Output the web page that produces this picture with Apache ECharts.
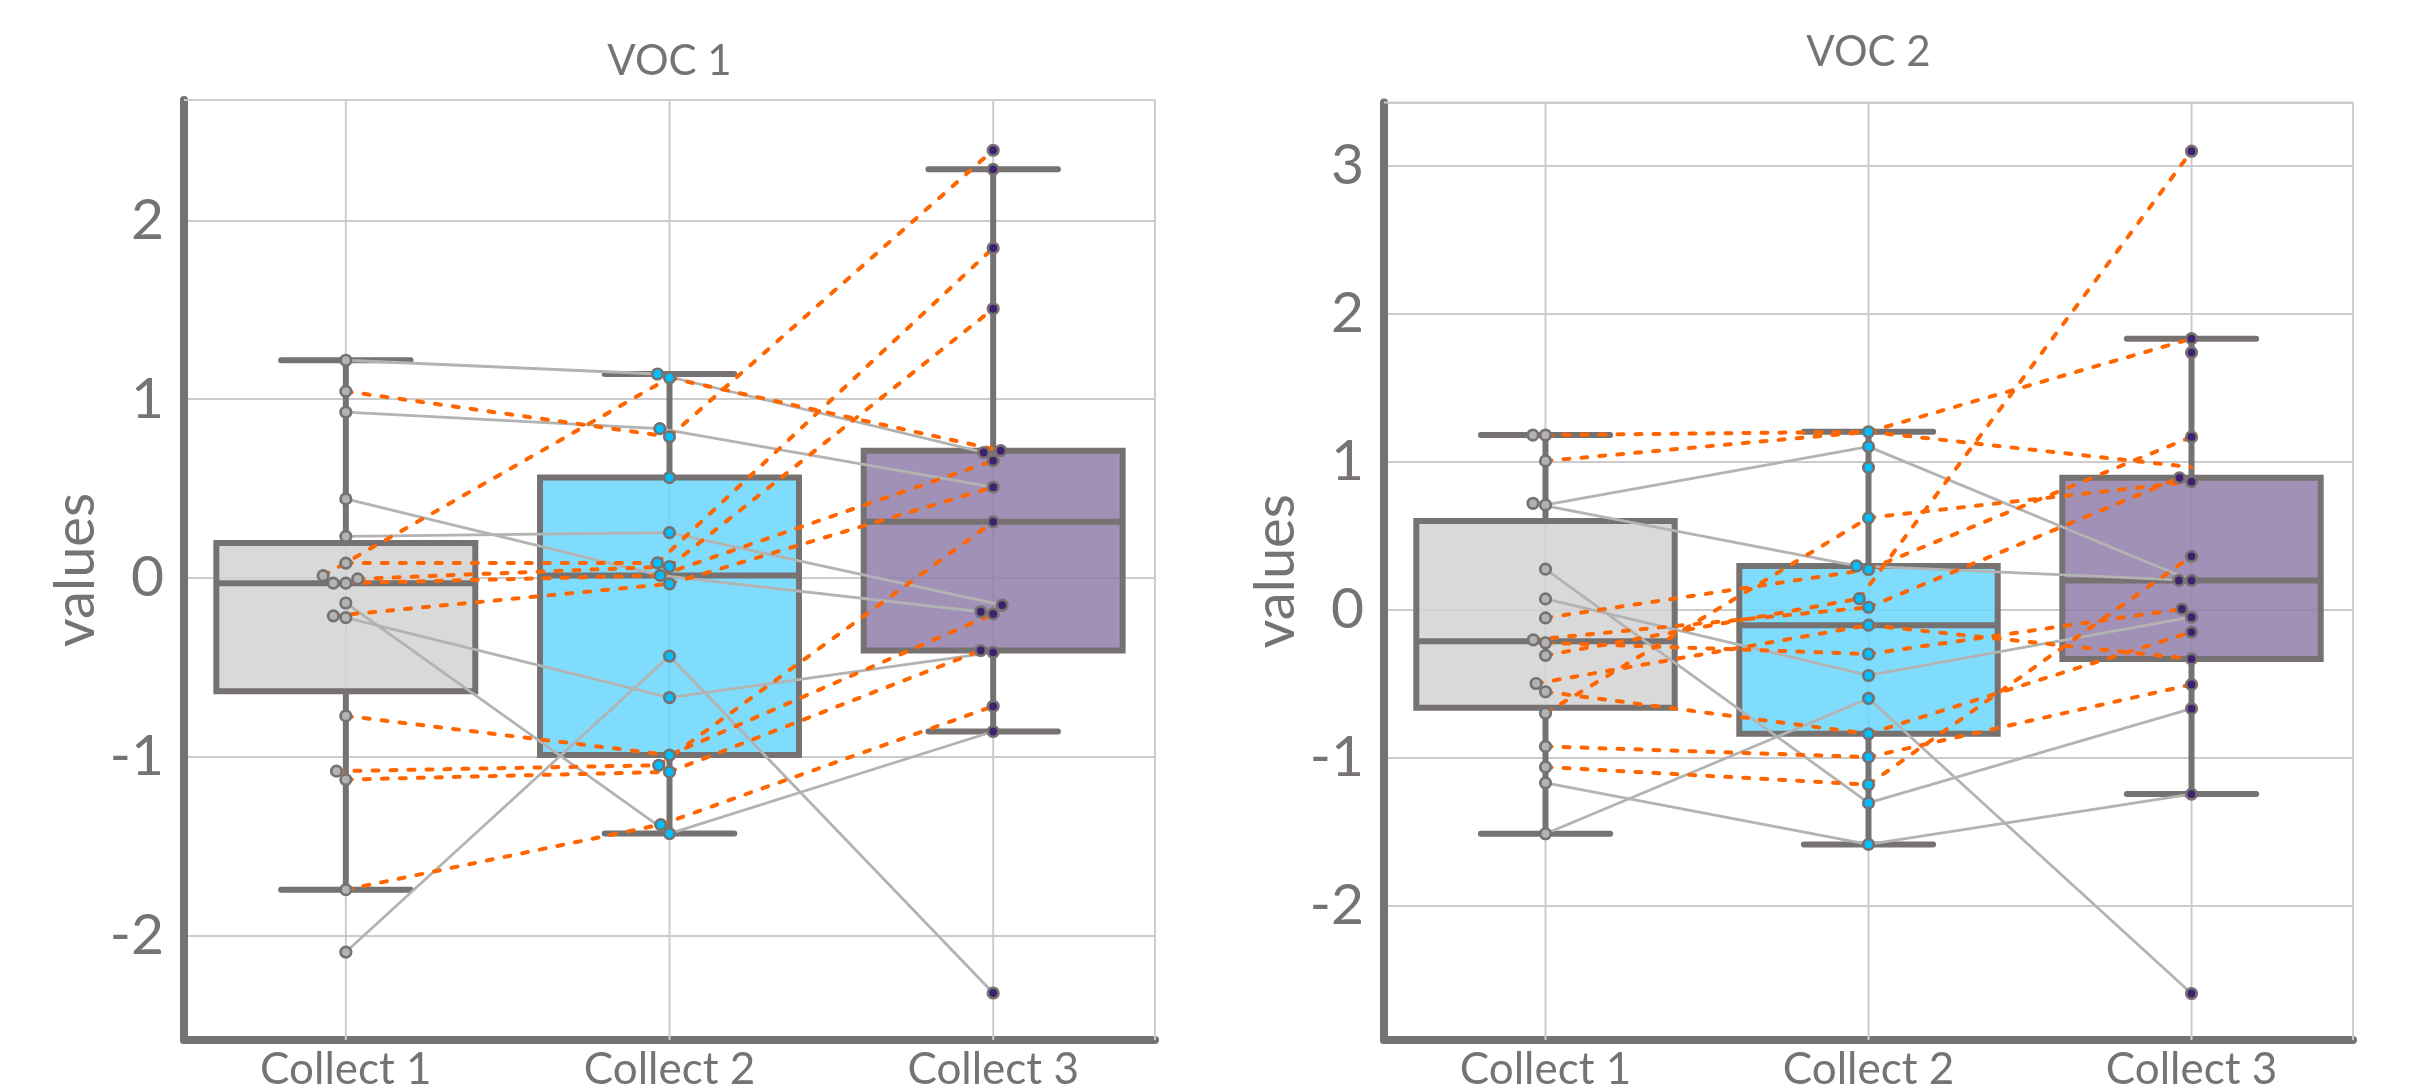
<!DOCTYPE html>
<html>
<head>
<meta charset="utf-8">
<script src="https://cdn.jsdelivr.net/npm/echarts@6/dist/echarts.min.js"></script>
<style>
html,body{margin:0;padding:0;background:#ffffff;}
#chart{width:2413px;height:1092px;}
</style>
</head>
<body>
<div id="chart"></div>
<script>
// ---------------- DATA ----------------
const categories = ['Collect 1', 'Collect 2', 'Collect 3'];
const panelTitles = ['VOC 1', 'VOC 2'];
const yAxisName = 'values';

const voc1YRange = [-2.585, 2.674];
const voc1YTicks = [-2, -1, 0, 1, 2];
const voc2YRange = [-2.907, 3.425];
const voc2YTicks = [-2, -1, 0, 1, 2, 3];

// points (one value per dot) for each collect
const voc1Collect1 = [1.218, 1.044, 0.928, 0.442, 0.233, 0.083, 0.013, -0.005, -0.029, -0.029, -0.140, -0.212, -0.222, -0.772, -1.081, -1.128, -1.744, -2.093];
const voc1Collect2 = [1.141, 1.120, 0.835, 0.790, 0.562, 0.254, 0.084, 0.064, 0.014, -0.033, -0.437, -0.669, -0.991, -1.048, -1.085, -1.380, -1.430];
const voc1Collect3 = [2.393, 2.286, 1.846, 1.506, 0.712, 0.702, 0.656, 0.508, 0.314, -0.152, -0.189, -0.201, -0.406, -0.416, -0.718, -0.859, -2.322];

const voc2Collect1 = [1.179, 1.179, 1.004, 0.718, 0.707, 0.273, 0.072, -0.056, -0.204, -0.224, -0.309, -0.499, -0.555, -0.700, -0.924, -1.063, -1.170, -1.514];
const voc2Collect2 = [1.201, 1.101, 0.960, 0.620, 0.295, 0.271, 0.074, 0.016, -0.105, -0.300, -0.445, -0.600, -0.839, -0.996, -1.182, -1.306, -1.586];
const voc2Collect3 = [3.096, 1.830, 1.736, 1.166, 0.890, 0.864, 0.360, 0.197, 0.197, 0.004, -0.051, -0.152, -0.333, -0.506, -0.669, -1.246, -2.593];

// connecting lines (one trajectory per subject) and their group
const voc1LineC1 = [1.218, 0.928, 0.442, 0.233, -0.140, -0.222, -2.093, 1.044, 0.013, 0.083, -0.005, -0.029, -0.212, -0.772, -1.081, -1.128, -1.744];
const voc1LineC2 = [1.141, 0.835, 0.014, 0.254, -1.430, -0.669, -0.437, 0.790, 1.120, 0.084, 0.064, 0.014, -0.033, -0.991, -1.048, -1.085, -1.380];
const voc1LineC3 = [0.702, 0.508, -0.189, -0.152, -0.859, -0.416, -2.322, 2.393, 0.712, 1.846, 1.506, 0.656, 0.508, -0.201, 0.314, -0.406, -0.718];
const voc1LineGroup = ['down','down','down','down','down','down','down','up','up','up','up','up','up','up','up','up','up'];

const voc2LineC1 = [0.707, 0.718, 0.273, 0.072, -1.514, -1.170, 1.179, 1.004, -0.056, -0.204, -0.224, -0.309, -0.499, -0.700, -0.555, -0.924, -1.063];
const voc2LineC2 = [1.101, 0.295, -1.306, -0.445, -0.600, -1.586, 1.201, 1.201, 0.271, 0.016, -0.300, 0.074, -0.105, 0.620, -0.839, -0.996, -1.182];
const voc2LineC3 = [0.197, 0.197, -0.669, -0.051, -2.593, -1.246, 1.830, 0.962, 1.166, 0.890, 0.004, 3.096, -0.333, 0.864, -0.152, -0.506, 0.360];
const voc2LineGroup = ['down','down','down','down','down','down','up','up','up','up','up','up','up','up','up','up','up'];

// ---------------- STYLE ----------------
const TEXT = '#787373';
const EDGE = '#767272';
const GRIDC = '#cccccc';
const FONT = 'Lato';
const boxFill = ['rgba(210,210,210,0.85)', 'rgba(104,214,253,0.85)', 'rgba(144,126,170,0.85)'];
const dotFill = ['#b3b3b3', '#00bfff', '#3f2170'];
const lineUp = {color: '#ff6600', width: 4, type: [6, 12], cap: 'round', opacity: 1};
const lineDown = {color: '#b3b3b3', width: 2.8, type: 'solid', cap: 'round', opacity: 1};

const panels = [
  {title: panelTitles[0], pts: [voc1Collect1, voc1Collect2, voc1Collect3],
   lines: [voc1LineC1, voc1LineC2, voc1LineC3], group: voc1LineGroup,
   range: voc1YRange, ticks: voc1YTicks,
   rect: {left: 184, top: 100, width: 971, height: 946}, titleY: 61},
  {title: panelTitles[1], pts: [voc2Collect1, voc2Collect2, voc2Collect3],
   lines: [voc2LineC1, voc2LineC2, voc2LineC3], group: voc2LineGroup,
   range: voc2YRange, ticks: voc2YTicks,
   rect: {left: 1384, top: 102.5, width: 969, height: 943.5}, titleY: 52}
];

// ---------------- HELPERS ----------------
function boxStats(vals) {
  const s = vals.slice().sort((a, b) => a - b);
  const q = p => { const h = (s.length - 1) * p, lo = Math.floor(h), hi = Math.min(lo + 1, s.length - 1); return s[lo] + (s[hi] - s[lo]) * (h - lo); };
  const q1 = q(0.25), med = q(0.5), q3 = q(0.75), iqr = q3 - q1;
  const lo = s.find(v => v >= q1 - 1.5 * iqr);
  const hi = s.slice().reverse().find(v => v <= q3 + 1.5 * iqr);
  return [lo, q1, med, q3, hi];
}
// beeswarm offsets (px) like seaborn swarmplot
function swarm(vals, pxPerY, d) {
  const order = vals.map((v, i) => i).sort((a, b) => vals[a] - vals[b]);
  const placed = [];
  const off = new Array(vals.length).fill(0);
  order.forEach(i => {
    const y = vals[i] * pxPerY;
    const nb = placed.filter(p => Math.abs(p.y - y) < d);
    const cands = [0];
    nb.forEach(p => { const dx = Math.sqrt(d * d - (p.y - y) * (p.y - y)); cands.push(p.x - dx, p.x + dx); });
    const sorted = cands.map((c, k) => [c, k]).sort((a, b) => (Math.abs(a[0]) - Math.abs(b[0])) || (a[1] - b[1]));
    let x = 0;
    for (const [c] of sorted) {
      if (nb.every(p => Math.hypot(p.x - c, p.y - y) >= d - 0.01)) { x = c; break; }
    }
    placed.push({x, y});
    off[i] = x;
  });
  return off;
}

// ---------------- OPTION ----------------
const grid = [], xAxis = [], yAxis = [], series = [], graphic = [];

panels.forEach((P, pi) => {
  grid.push({left: P.rect.left, top: P.rect.top, width: P.rect.width, height: P.rect.height, containLabel: false});
  xAxis.push({
    type: 'category', gridIndex: pi, data: categories, position: 'bottom', boundaryGap: true,
    axisLine: {show: true, onZero: false, lineStyle: {color: EDGE, width: 8}},
    axisTick: {show: false}, splitLine: {show: false},
    axisLabel: {color: TEXT, fontSize: 44, fontFamily: FONT, margin: 8}
  });
  const valIdx = xAxis.length;
  xAxis.push({type: 'value', gridIndex: pi, min: -0.5, max: categories.length - 0.5, show: false});
  yAxis.push({
    type: 'value', gridIndex: pi, min: P.range[0], max: P.range[1],
    name: yAxisName, nameLocation: 'middle', nameGap: 80,
    nameTextStyle: {color: TEXT, fontSize: 56, fontFamily: FONT},
    axisLine: {show: true, onZero: false, lineStyle: {color: EDGE, width: 8}},
    axisTick: {show: false},
    splitLine: {show: true, lineStyle: {color: GRIDC, width: 2}},
    axisLabel: {
      color: TEXT, fontSize: 57, fontFamily: FONT, margin: 20,
      formatter: v => { const r = Math.round(v); return (Math.abs(v - r) < 1e-6 && P.ticks.indexOf(r) >= 0) ? String(r) : ''; }
    }
  });
  const pxPerX = P.rect.width / categories.length;
  const pxPerY = P.rect.height / (P.range[1] - P.range[0]);

  // vertical grid lines + top border
  const gridXs = categories.map((c, i) => i).concat([categories.length - 0.5]);
  series.push({
    type: 'custom', xAxisIndex: valIdx, yAxisIndex: pi, z: 1, silent: true, animation: false,
    data: gridXs.map(x => [x]),
    renderItem: (params, api) => {
      const cs = params.coordSys;
      const x = api.coord([api.value(0), P.range[0]])[0];
      const children = [{type: 'line', shape: {x1: x, y1: cs.y, x2: x, y2: cs.y + cs.height}, style: {stroke: GRIDC, lineWidth: 2}}];
      if (params.dataIndex === 0) children.push({type: 'line', shape: {x1: cs.x, y1: cs.y, x2: cs.x + cs.width, y2: cs.y}, style: {stroke: GRIDC, lineWidth: 2}});
      return {type: 'group', children};
    }
  });

  // boxes
  series.push({
    type: 'custom', xAxisIndex: valIdx, yAxisIndex: pi, z: 2, silent: true, animation: false,
    data: P.pts.map((vals, i) => [i].concat(boxStats(vals))),
    encode: {x: 0, y: [1, 2, 3, 4, 5]},
    renderItem: (params, api) => {
      const i = api.value(0);
      const unit = api.size([1, 0])[0];
      const bw = unit * 0.8, cw = bw * 0.5;
      const cx = api.coord([i, 0])[0];
      const yy = [1, 2, 3, 4, 5].map(k => api.coord([i, api.value(k)])[1]);
      const [yLo, yQ1, yMed, yQ3, yHi] = yy;
      const ls = {stroke: EDGE, lineWidth: 6, lineCap: 'butt'};
      const cs = {stroke: EDGE, lineWidth: 6, lineCap: 'round'};
      return {type: 'group', children: [
        {type: 'line', shape: {x1: cx, y1: yQ1, x2: cx, y2: yLo}, style: ls},
        {type: 'line', shape: {x1: cx, y1: yQ3, x2: cx, y2: yHi}, style: ls},
        {type: 'line', shape: {x1: cx - cw / 2, y1: yLo, x2: cx + cw / 2, y2: yLo}, style: cs},
        {type: 'line', shape: {x1: cx - cw / 2, y1: yHi, x2: cx + cw / 2, y2: yHi}, style: cs},
        {type: 'rect', shape: {x: cx - bw / 2, y: yQ3, width: bw, height: yQ1 - yQ3}, style: {fill: boxFill[i], stroke: EDGE, lineWidth: 6}},
        {type: 'line', shape: {x1: cx - bw / 2, y1: yMed, x2: cx + bw / 2, y2: yMed}, style: ls}
      ]};
    }
  });

  // swarm offsets
  const offs = P.pts.map(vals => swarm(vals, pxPerY, 12.6));
  const snapX = (k, v) => {
    let best = -1, bd = 1e9;
    P.pts[k].forEach((pv, j) => { const dd = Math.abs(pv - v); if (dd < bd) { bd = dd; best = j; } });
    return k + (bd < 0.012 ? offs[k][best] / pxPerX : 0);
  };

  // connecting lines
  const segUp = [], segDown = [];
  P.group.forEach((g, s) => {
    for (let k = 0; k < categories.length - 1; k++) {
      const a = P.lines[k][s], b = P.lines[k + 1][s];
      if (a == null || b == null) continue;
      const seg = {coords: [[snapX(k, a), a], [snapX(k + 1, b), b]]};
      (g === 'up' ? segUp : segDown).push(seg);
    }
  });
  [[segDown, lineDown], [segUp, lineUp]].forEach(([segs, st], j) => {
    series.push({
      type: 'lines', coordinateSystem: 'cartesian2d', xAxisIndex: valIdx, yAxisIndex: pi,
      z: 3 + j * 0.1, silent: true, animation: false, polyline: false,
      lineStyle: Object.assign({curveness: 0}, st),
      effect: {show: false}, symbol: ['none', 'none'],
      data: segs
    });
  });

  // points
  P.pts.forEach((vals, k) => {
    series.push({
      type: 'scatter', xAxisIndex: valIdx, yAxisIndex: pi, z: 5, silent: true, animation: false,
      symbol: 'circle', symbolSize: 10.5,
      itemStyle: {color: dotFill[k], borderColor: EDGE, borderWidth: 2.7, opacity: 1},
      data: vals.map((v, j) => [k + offs[k][j] / pxPerX, v])
    });
  });

  graphic.push({
    type: 'text', x: P.rect.left + P.rect.width / 2, y: P.titleY, silent: true,
    style: {text: P.title, fill: TEXT, fontSize: 42, fontFamily: FONT, align: 'center', verticalAlign: 'middle'}
  });
});

const chart = echarts.init(document.getElementById('chart'), null, {renderer: 'canvas', width: 2413, height: 1092});
chart.setOption({
  backgroundColor: '#ffffff',
  animation: false,
  grid, xAxis, yAxis, series, graphic
});
</script>
</body>
</html>
